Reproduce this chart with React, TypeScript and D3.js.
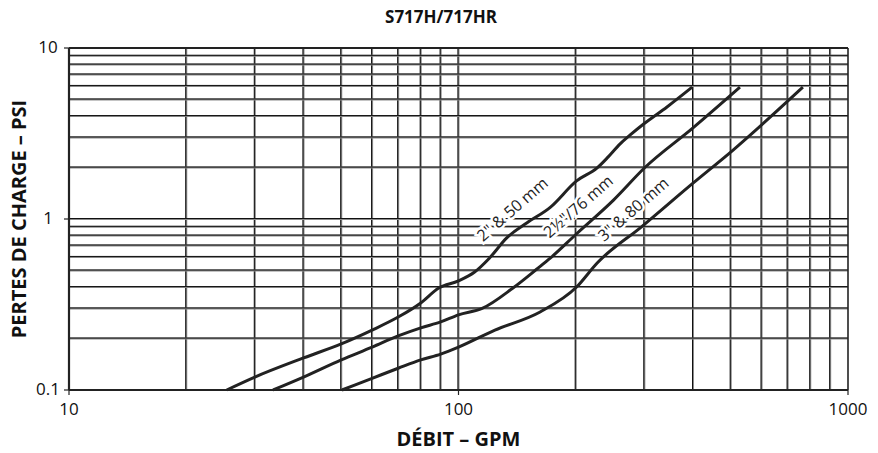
import React, { useEffect, useRef } from 'react';
import * as d3 from 'd3';

// Pressure loss curves (GPM, PSI)
const curve2in: [number, number][] = [
  [25.4, 0.1], [30, 0.119], [40, 0.154], [50, 0.186], [60, 0.224], [70, 0.267],
  [80, 0.323], [89, 0.395], [100, 0.435], [110, 0.49], [120, 0.59], [133, 0.775],
  [150, 0.95], [172, 1.17], [201, 1.67], [227, 1.99], [242, 2.3], [260, 2.75],
  [276, 3.1], [301, 3.64], [343, 4.52], [398, 5.9],
];
const curve25in: [number, number][] = [
  [33.4, 0.1], [40, 0.119], [50, 0.15], [60, 0.178], [70, 0.207], [80, 0.231],
  [90, 0.25], [100, 0.275], [115, 0.3], [138, 0.395], [159, 0.51], [172, 0.59],
  [201, 0.82], [250, 1.29], [301, 2.0], [400, 3.41], [528, 5.9],
];
const curve3in: [number, number][] = [
  [50.2, 0.1], [60, 0.117], [70, 0.134], [80, 0.15], [90, 0.162], [100, 0.178],
  [124, 0.224], [162, 0.286], [201, 0.4], [227, 0.553], [295, 0.9], [400, 1.62],
  [507, 2.53], [766, 5.9],
];

const seriesLabels = ['2" & 50 mm', '2\u00BD"/76 mm', '3" & 80 mm'];
// label anchor in data units [GPM, PSI]
const labelAnchors: [number, number][] = [[141, 1.07], [208, 1.11], [288, 1.07]];

const xMajorTicks = [10, 100, 1000];
const yMajorTicks = [0.1, 1, 10];
const xTickLabels = ['10', '100', '1000'];
const yTickLabels = ['0.1', '1', '10'];

const TITLE = 'S717H/717HR';
const X_LABEL = 'DÉBIT – GPM';
const Y_LABEL = 'PERTES DE CHARGE – PSI';

const WIDTH = 878;
const HEIGHT = 453;
const MARGIN = { top: 48, right: 30, bottom: 63, left: 69 };
const FONT = '"Open Sans", "Noto Sans", sans-serif';

export default function App() {
  const svgRef = useRef<SVGSVGElement>(null);

  useEffect(() => {
    document.body.style.margin = '0';
    if (!svgRef.current) return;
    const svg = d3.select(svgRef.current);
    svg.selectAll('*').remove();

    const innerW = WIDTH - MARGIN.left - MARGIN.right;
    const innerH = HEIGHT - MARGIN.top - MARGIN.bottom;
    const x = d3.scaleLog().domain([10, 1000]).range([0, innerW]);
    const y = d3.scaleLog().domain([0.1, 10]).range([innerH, 0]);

    const g = svg.append('g').attr('transform', `translate(${MARGIN.left},${MARGIN.top})`);

    // minor/major grid values: 20..90, 100, 200..900
    const xGrid: number[] = [];
    [10, 100].forEach(dec => d3.range(1, 10).forEach(k => xGrid.push(dec * k)));
    const yGrid: number[] = [];
    [0.1, 1].forEach(dec => d3.range(1, 10).forEach(k => yGrid.push(+(dec * k).toFixed(2))));

    const grid = g.append('g');
    xGrid.filter(v => v > 10).forEach(v => {
      grid.append('line')
        .attr('x1', x(v)).attr('x2', x(v)).attr('y1', 0).attr('y2', innerH)
        .attr('stroke', '#8a8a8a').attr('stroke-width', 2);
      grid.append('line')
        .attr('x1', x(v) - 0.5).attr('x2', x(v) - 0.5).attr('y1', 0).attr('y2', innerH)
        .attr('stroke', '#111').attr('stroke-width', 1);
    });
    yGrid.filter(v => v > 0.1).forEach(v => {
      grid.append('line')
        .attr('x1', 0).attr('x2', innerW).attr('y1', y(v)).attr('y2', y(v))
        .attr('stroke', '#8a8a8a').attr('stroke-width', 2);
      grid.append('line')
        .attr('x1', 0).attr('x2', innerW).attr('y1', y(v) - 0.5).attr('y2', y(v) - 0.5)
        .attr('stroke', '#111').attr('stroke-width', 1);
    });

    // frame
    g.append('line').attr('x1', 0).attr('x2', innerW).attr('y1', 0).attr('y2', 0)
      .attr('stroke', '#222').attr('stroke-width', 2.2);
    g.append('line').attr('x1', 0).attr('x2', 0).attr('y1', 0).attr('y2', innerH)
      .attr('stroke', '#222').attr('stroke-width', 2.2);
    g.append('line').attr('x1', innerW).attr('x2', innerW).attr('y1', 0).attr('y2', innerH)
      .attr('stroke', '#222').attr('stroke-width', 1.6);
    g.append('line').attr('x1', 0).attr('x2', innerW).attr('y1', innerH).attr('y2', innerH)
      .attr('stroke', '#222').attr('stroke-width', 1.8);

    // major ticks
    xMajorTicks.forEach(v => {
      g.append('line').attr('x1', x(v)).attr('x2', x(v)).attr('y1', innerH).attr('y2', innerH + 5)
        .attr('stroke', '#222').attr('stroke-width', 1.2);
    });
    yMajorTicks.forEach(v => {
      g.append('line').attr('x1', -5).attr('x2', 0).attr('y1', y(v)).attr('y2', y(v))
        .attr('stroke', '#222').attr('stroke-width', 1.2);
    });

    // tick labels
    xMajorTicks.forEach((v, i) => {
      g.append('text')
        .attr('x', x(v)).attr('y', innerH + 25)
        .attr('text-anchor', 'middle')
        .attr('font-family', FONT).attr('font-size', 17).attr('fill', '#111')
        .text(xTickLabels[i]);
    });
    yMajorTicks.forEach((v, i) => {
      g.append('text')
        .attr('x', -21).attr('y', y(v))
        .attr('text-anchor', 'middle').attr('dominant-baseline', 'middle')
        .attr('font-family', FONT).attr('font-size', 17).attr('fill', '#111')
        .text(yTickLabels[i]);
    });

    // curve labels, white halo blanks the grid behind them; nudged off the curve
    labelAnchors.forEach(([lx, ly], i) => {
      g.append('text')
        .attr('transform', `translate(${x(lx)},${y(ly)}) rotate(-41) translate(0,-5)`)
        .attr('text-anchor', 'middle').attr('dominant-baseline', 'middle')
        .attr('font-family', FONT).attr('font-size', 16).attr('fill', '#222')
        .attr('stroke', '#fff').attr('stroke-width', 5).attr('paint-order', 'stroke')
        .text(seriesLabels[i]);
    });

    // curves
    const line = d3.line<[number, number]>()
      .x(d => x(d[0]))
      .y(d => y(d[1]))
      .curve(d3.curveMonotoneX);
    [curve2in, curve25in, curve3in].forEach(data => {
      g.append('path')
        .attr('d', line(data))
        .attr('fill', 'none')
        .attr('stroke', '#222')
        .attr('stroke-width', 3)
        .attr('stroke-linecap', 'butt');
    });

    // titles
    svg.append('text')
      .attr('x', 441).attr('y', 23)
      .attr('text-anchor', 'middle')
      .attr('font-family', FONT).attr('font-size', 17).attr('font-weight', 700).attr('fill', '#111')
      .text(TITLE);
    svg.append('text')
      .attr('x', MARGIN.left + x(100)).attr('y', 446)
      .attr('text-anchor', 'middle')
      .attr('font-family', FONT).attr('font-size', 20).attr('font-weight', 700).attr('fill', '#111')
      .text(X_LABEL);
    svg.append('text')
      .attr('transform', `translate(26,${MARGIN.top + innerH / 2}) rotate(-90)`)
      .attr('text-anchor', 'middle')
      .attr('font-family', FONT).attr('font-size', 20).attr('font-weight', 700).attr('fill', '#111')
      .text(Y_LABEL);
  }, []);

  return (
    <svg
      ref={svgRef}
      width={WIDTH}
      height={HEIGHT}
      style={{ display: 'block', background: '#fff' }}
    />
  );
}
